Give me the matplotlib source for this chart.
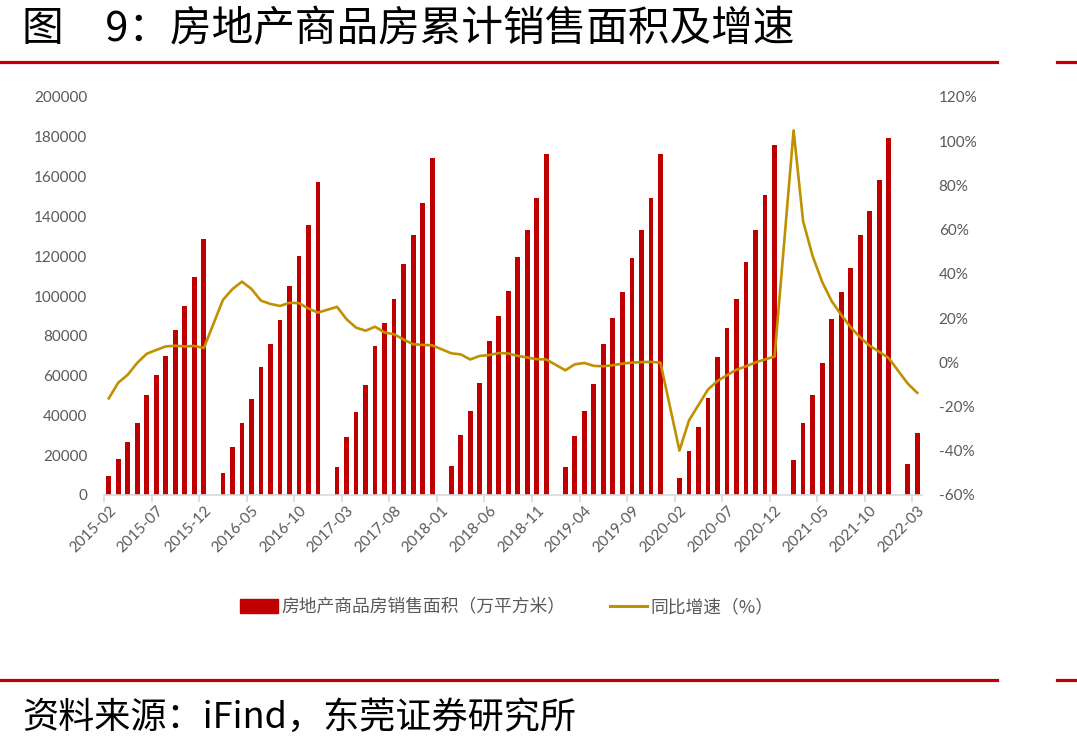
import matplotlib
matplotlib.use("Agg")
from matplotlib import pyplot as plt
from matplotlib.lines import Line2D
from matplotlib.patches import Patch
import numpy as np
import pandas as pd

plt.rcParams["font.family"] = ["Noto Sans CJK SC", "DejaVu Sans"]

RED = "#C00000"
GOLD = "#BF9000"
GREY = "#595959"
AXIS = "#D9D9D9"

# monthly categories, 2015-02 .. 2022-03 (January has no release)
months = pd.period_range("2015-02", "2022-03", freq="M").strftime("%Y-%m").tolist()

# cumulative commercial housing sales area, 10k m2
area = [
    9371, 18200, 26400, 36400, 50500, 60200, 69800, 83000, 95200, 109400, 128500,
    None, 11200, 24200, 36300, 48100, 64500, 75700, 87700, 104900, 120100, 135800, 157300,
    None, 13900, 29200, 41800, 55500, 74900, 86500, 98600, 116100, 130500, 146700, 169400,
    None, 14700, 30400, 42300, 56300, 77400, 89900, 102400, 119800, 133200, 149000, 171600,
    None, 13900, 29700, 42300, 55800, 75700, 88900, 101900, 119100, 133200, 149000, 171600,
    None, 8700, 22200, 34300, 48800, 69300, 83900, 98600, 117000, 133200, 151000, 176100,
    None, 17500, 36400, 50500, 66500, 88600, 101800, 114300, 130500, 142900, 158200, 179400,
    None, 15700, 31000,
]

# year-on-year growth, %
growth = [
    -16.3, -9.2, -5.6, -0.2, 3.9, 5.6, 7.2, 7.5, 7.2, 7.4, 6.5,
    None, 28.2, 33.1, 36.5, 33.2, 27.9, 26.4, 25.5, 26.9, 26.8, 24.3, 22.5,
    None, 25.1, 19.5, 15.7, 14.3, 16.1, 13.5, 12.7, 10.3, 8.2, 7.9, 7.7,
    None, 4.1, 3.6, 1.3, 2.9, 3.3, 4.2, 4.0, 2.9, 2.2, 1.4, 1.3,
    None, -3.6, -0.9, -0.3, -1.6, -1.8, -1.3, -0.6, -0.1, 0.1, 0.2, -0.1,
    None, -39.9, -26.3, -19.3, -12.3, -8.4, -5.8, -3.3, -1.8, 0.0, 1.3, 2.6,
    None, 104.9, 63.8, 48.1, 36.4, 27.7, 21.5, 15.9, 11.3, 7.5, 4.8, 1.9,
    None, -9.6, -13.8,
]

title = "图　9：房地产商品房累计销售面积及增速"
source = "资料来源：iFind，东莞证券研究所"
bar_label = "房地产商品房销售面积（万平方米）"
line_label = "同比增速（%）"

W, H = 1077, 752
fig = plt.figure(figsize=(W / 100, H / 100), dpi=100)
fig.patch.set_facecolor("white")

ax = fig.add_axes([104 / W, 1 - 495 / H, (922 - 104) / W, (495 - 97) / H])
x = np.arange(len(months))
a = np.array([np.nan if v is None else v for v in area], dtype=float)
g = np.array([np.nan if v is None else v for v in growth], dtype=float)

ax.bar(x, a, width=0.5, color=RED, zorder=2)
ax.set_xlim(-0.5, len(months) - 0.5)
ax.set_ylim(0, 200000)
ax.set_yticks(range(0, 200001, 20000))
for s in ["top", "left", "right"]:
    ax.spines[s].set_visible(False)
ax.spines["bottom"].set_color(AXIS)
ax.spines["bottom"].set_linewidth(1.2)

tick_font = dict(family=["Lato", "DejaVu Sans"], size=11, color=GREY)
ax.set_xticks(x[::5])
ax.set_xticklabels(months[::5], rotation=45, ha="right", rotation_mode="anchor", **tick_font)
ax.set_xticks(np.arange(-0.5, len(months), 5), minor=True)
ax.tick_params(axis="x", which="major", length=0, pad=6)
ax.tick_params(axis="x", which="minor", length=5, color=AXIS, width=1.2)
ax.tick_params(axis="y", length=0, pad=12)
for lab in ax.get_yticklabels():
    lab.set(**tick_font)

ax2 = ax.twinx()
ok = ~np.isnan(g)
ax2.plot(x[ok], g[ok], color=GOLD, lw=1.9, zorder=3)
ax2.set_ylim(-60, 120)
ax2.set_yticks(range(-60, 121, 20))
ax2.set_yticklabels(["%d%%" % v for v in range(-60, 121, 20)], **tick_font)
ax2.tick_params(axis="y", length=0, pad=12)
for s in ax2.spines.values():
    s.set_visible(False)

handles = [Patch(color=RED), Line2D([], [], color=GOLD, lw=2.2)]
fig.legend(handles, [bar_label, line_label], loc="center",
           bbox_to_anchor=(507 / W, 1 - 607 / H), ncol=2, frameon=False,
           prop=dict(size=12.8), labelcolor=GREY, handlelength=2.1,
           handleheight=0.8, handletextpad=0.2, columnspacing=2.5)

# header / footer
fig.text(22 / W, 1 - 30 / H, title, fontsize=30, va="center", ha="left",
         fontweight="light")
fig.text(22 / W, 1 - 718 / H, source, fontsize=26, va="center", ha="left",
         fontweight="light")
for yy in (62, 680):
    fig.add_artist(Line2D([0, 997 / W], [1 - yy / H] * 2, color=RED, lw=2.3))
    fig.add_artist(Line2D([1057 / W, 1], [1 - yy / H] * 2, color=RED, lw=2.3))

fig.savefig("out.png", dpi=100)
